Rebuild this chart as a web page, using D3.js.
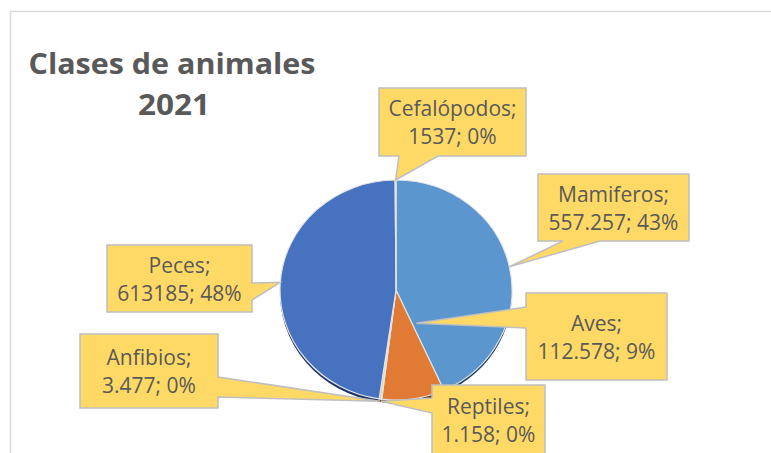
<!DOCTYPE html>
<html>
<head>
<meta charset="utf-8">
<script src="https://cdn.jsdelivr.net/npm/d3@7/dist/d3.min.js"></script>
<style>
  body { margin: 0; background: #fff; }
  .mono { font-family: "Open Sans", sans-serif; fill: #595959; }
</style>
</head>
<body>
<div id="chart"></div>
<script>
// datos del grafico (orden en sentido horario desde arriba)
var categorias = ["Mamiferos", "Aves", "Reptiles", "Anfibios", "Peces", "Cefalópodos"];
var valores = [557257, 112578, 1158, 3477, 613185, 1537];
var valoresTexto = ["557.257", "112.578", "1.158", "3.477", "613185", "1537"];
var colores = ["#5b96cf", "#e07a35", "#a5a5a5", "#f2c14e", "#4672c0", "#70ad47"];
var coloresSombra = ["#22406a", "#6b3510", "#555555", "#7a5f10", "#1f3566", "#355a20"];

// ubicacion de las etiquetas (cajas tipo globo)
var etiquetas = [
    { x: 538, y: 174, w: 151, h: 67, lado: "bottom", b1: 563, b2: 600, tipR: 1.0 },
    { x: 526, y: 293, w: 141, h: 87, lado: "left", b1: 307, b2: 328, tipR: 0.35, tipAng: 150 },
    { x: 432, y: 385, w: 113, h: 70, lado: "left", b1: 398, b2: 413, tipR: 1.02 },
    { x: 80, y: 334, w: 138, h: 74, lado: "right", b1: 377, b2: 397, tipR: 1.02 },
    { x: 107, y: 245, w: 145, h: 67, lado: "right", b1: 283, b2: 300, tipR: 1.0 },
    { x: 379, y: 88, w: 147, h: 68, lado: "bottom", b1: 399, b2: 438, tipR: 1.0 }
];

var width = 771, height = 453;
var cx = 396, cy = 290, rx = 116, ry = 110;

var svg = d3.select("#chart").append("svg")
    .attr("width", width)
    .attr("height", height);

svg.append("rect").attr("width", width).attr("height", height).style("fill", "#fff");

// marco del area del grafico
svg.append("rect")
    .attr("x", 10.5).attr("y", 11.5)
    .attr("width", 800).attr("height", 500)
    .style("fill", "none")
    .style("stroke", "#d9d9d9")
    .style("stroke-width", 1.5);

// titulo
var titulo = svg.append("text")
    .attr("class", "mono")
    .style("font-weight", "bold")
    .style("font-size", "29px")
    .attr("text-anchor", "middle");
titulo.append("tspan").attr("x", 172).attr("y", 74).text("Clases de animales")
    .attr("textLength", 287).attr("lengthAdjust", "spacingAndGlyphs");
titulo.append("tspan").attr("x", 174).attr("y", 115).text("2021")
    .attr("textLength", 72).attr("lengthAdjust", "spacingAndGlyphs");

var total = d3.sum(valores);
var datos = categorias.map(function (c, i) {
    return { nombre: c, valor: valores[i], texto: valoresTexto[i], color: colores[i], sombra: coloresSombra[i], et: etiquetas[i] };
});

var pie = d3.pie().sort(null).value(function (d) { return d.valor; });
var arcos = pie(datos);
var arc = d3.arc().innerRadius(0).outerRadius(rx);

// sombra (borde 3D)
svg.append("g")
    .attr("transform", "translate(" + cx + "," + (cy + 3) + ") scale(1," + (ry / rx) + ")")
    .selectAll("path")
    .data(arcos)
    .enter().append("path")
    .attr("d", arc)
    .style("fill", function (d) { return d.data.sombra; });

svg.append("g")
    .attr("transform", "translate(" + cx + "," + cy + ") scale(1," + (ry / rx) + ")")
    .selectAll("path")
    .data(arcos)
    .enter().append("path")
    .attr("d", arc)
    .style("fill", function (d) { return d.data.color; })
    .style("stroke", "#e4e4e4")
    .style("stroke-width", 1.2)
    .attr("vector-effect", "non-scaling-stroke");

function puntaGlobo(d) {
    var a = d.data.et.tipAng !== undefined ? d.data.et.tipAng * Math.PI / 180 : (d.startAngle + d.endAngle) / 2;
    var r = d.data.et.tipR;
    return [cx + rx * r * Math.sin(a), cy - ry * r * Math.cos(a)];
}

function pathGlobo(d) {
    var e = d.data.et;
    var t = puntaGlobo(d);
    var x0 = e.x, y0 = e.y, x1 = e.x + e.w, y1 = e.y + e.h;
    if (e.lado === "bottom")
        return "M" + x0 + "," + y0 + "H" + x1 + "V" + y1 + "H" + e.b2 + "L" + t[0] + "," + t[1] + "L" + e.b1 + "," + y1 + "H" + x0 + "Z";
    if (e.lado === "right")
        return "M" + x0 + "," + y0 + "H" + x1 + "V" + e.b1 + "L" + t[0] + "," + t[1] + "L" + x1 + "," + e.b2 + "V" + y1 + "H" + x0 + "Z";
    return "M" + x0 + "," + y0 + "H" + x1 + "V" + y1 + "H" + x0 + "V" + e.b2 + "L" + t[0] + "," + t[1] + "L" + x0 + "," + e.b1 + "Z";
}

var globos = svg.selectAll(".globo")
    .data(arcos)
    .enter().append("g")
    .attr("class", "globo");

globos.append("path")
    .attr("d", pathGlobo)
    .style("fill", "#ffd966")
    .style("stroke", "#bfbfbf")
    .style("stroke-width", 1.5);

var textos = globos.append("text")
    .attr("class", "mono")
    .style("font-size", "21px")
    .attr("text-anchor", "middle");

textos.append("tspan")
    .attr("x", function (d) { return d.data.et.x + d.data.et.w / 2; })
    .attr("y", function (d) { return d.data.et.y + d.data.et.h / 2 - 6; })
    .text(function (d) { return d.data.nombre + ";"; });

textos.append("tspan")
    .attr("x", function (d) { return d.data.et.x + d.data.et.w / 2; })
    .attr("y", function (d) { return d.data.et.y + d.data.et.h / 2 + 22; })
    .text(function (d) { return d.data.texto + "; " + Math.round(d.data.valor / total * 100) + "%"; });
</script>
</body>
</html>
